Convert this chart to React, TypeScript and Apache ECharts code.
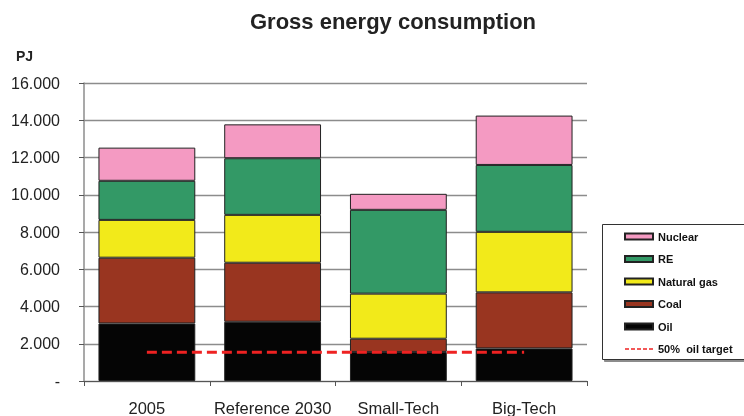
import React, { useEffect, useRef } from "react";
import * as echarts from "echarts";

const categories = ["2005", "Reference 2030", "Small-Tech", "Big-Tech"];
const oil = [3090, 3180, 1560, 1750];
const coal = [3530, 3170, 710, 3010];
const naturalGas = [2030, 2570, 2420, 3250];
const re = [2100, 3040, 4500, 3590];
const nuclear = [1780, 1820, 860, 2650];
const oilTarget = [1545, 1545, 1545, 1545];
const yTicks = { min: 0, max: 16000, interval: 2000 };

const FONT = "Liberation Sans, Arial, sans-serif";
const DASH_ICON =
  "path://M0,0h4v1.6h-4zM6,0h4v1.6h-4zM12,0h4v1.6h-4zM18,0h4v1.6h-4zM24,0h4v1.6h-4z";

export default function App() {
  const ref = useRef<HTMLDivElement>(null);
  useEffect(() => {
    if (!ref.current) return;
    const chart = echarts.init(ref.current, undefined, { renderer: "svg" });
    const barStyle = (color: string) => ({
      color,
      borderColor: "#222",
      borderWidth: 1,
    });
    const bar = (name: string, data: number[], color: string) => ({
      name,
      type: "bar",
      stack: "total",
      data,
      barCategoryGap: "23%",
      itemStyle: barStyle(color),
    });
    chart.setOption({
      animation: false,
      textStyle: { fontFamily: FONT },
      grid: { left: 84, right: 157, top: 83, bottom: 34, containLabel: false },
      xAxis: {
        type: "category",
        data: categories,
        axisLine: { lineStyle: { color: "#555", width: 1.2 } },
        axisTick: { show: true, length: 5, lineStyle: { color: "#555" } },
        axisLabel: {
          interval: 0,
          fontSize: 16.5,
          color: "#222",
          margin: 18,
          fontFamily: FONT,
        },
      },
      yAxis: {
        type: "value",
        min: yTicks.min,
        max: yTicks.max,
        interval: yTicks.interval,
        axisLine: { show: true, lineStyle: { color: "#8c8c8c", width: 1.5 } },
        axisTick: { show: true, length: 5, lineStyle: { color: "#555" } },
        splitLine: { lineStyle: { color: "#8c8c8c", width: 1.3 } },
        axisLabel: {
          fontSize: 16,
          color: "#222",
          margin: 24,
          fontFamily: FONT,
          formatter: (v: number) =>
            v === 0 ? "-" : v.toString().replace(/\B(?=(\d{3})+(?!\d))/g, "."),
        },
      },
      legend: {
        orient: "vertical",
        left: 624,
        top: 231,
        padding: 0,
        itemWidth: 28,
        itemHeight: 6,
        itemGap: 11.5,
        itemTextGap: 4,
        textStyle: { fontSize: 11, fontWeight: "bold", color: "#111", fontFamily: FONT },
        data: [
          { name: "Nuclear", icon: "rect" },
          { name: "RE", icon: "rect" },
          { name: "Natural gas", icon: "rect" },
          { name: "Coal", icon: "rect" },
          { name: "Oil", icon: "rect" },
          {
            name: "50%  oil target",
            icon: DASH_ICON,
            itemStyle: { color: "#EE2222", borderWidth: 0 },
          },
        ],
      },
      graphic: [
        {
          type: "rect",
          shape: { x: 602.5, y: 224.5, width: 160, height: 135 },
          style: {
            fill: "#fff",
            stroke: "#333",
            lineWidth: 1,
            shadowColor: "rgba(0,0,0,0.45)",
            shadowOffsetX: 2,
            shadowOffsetY: 2,
            shadowBlur: 1,
          },
          z: -10,
        },
        {
          type: "text",
          x: 393,
          y: 21,
          style: {
            text: "Gross energy consumption",
            fontSize: 22,
            fontWeight: "bold",
            fontFamily: FONT,
            fill: "#222",
            textAlign: "center",
            textVerticalAlign: "middle",
          },
        },
        {
          type: "text",
          x: 16,
          y: 56,
          style: {
            text: "PJ",
            fontSize: 14,
            fontWeight: "bold",
            fontFamily: FONT,
            fill: "#222",
            textAlign: "left",
            textVerticalAlign: "middle",
          },
        },
      ],
      series: [
        bar("Oil", oil, "#050505"),
        bar("Coal", coal, "#993520"),
        bar("Natural gas", naturalGas, "#F2EA1A"),
        bar("RE", re, "#339966"),
        bar("Nuclear", nuclear, "#F49AC2"),
        {
          name: "50%  oil target",
          type: "line",
          data: oilTarget,
          symbol: "none",
          z: 10,
          lineStyle: { color: "#EE2222", width: 3, type: [10, 5] },
          itemStyle: { color: "#EE2222" },
        },
      ],
    });
    return () => chart.dispose();
  }, []);
  return (
    <div
      ref={ref}
      style={{ position: "fixed", left: 0, top: 0, width: 744, height: 416 }}
    />
  );
}
